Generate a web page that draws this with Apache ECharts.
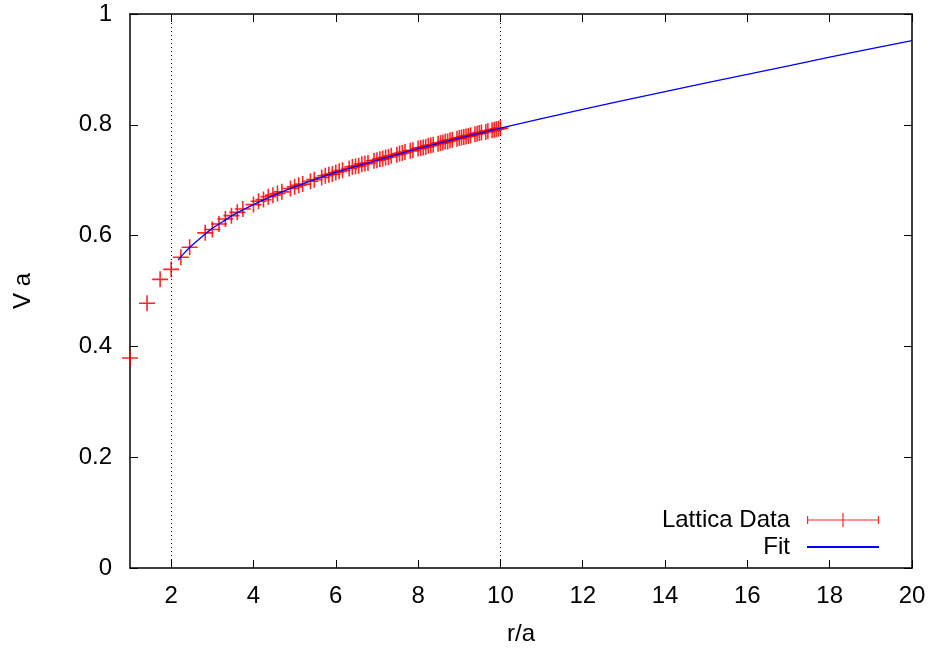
<!DOCTYPE html>
<html>
<head>
<meta charset="utf-8">
<script src="https://cdn.jsdelivr.net/npm/echarts@6/dist/echarts.min.js"></script>
<style>html,body{margin:0;padding:0;background:#fff}#c{width:934px;height:651px}</style>
</head>
<body>
<div id="c"></div>
<script>
// Lattice data: r/a and V a
const rValues = [1.000,1.414,1.732,2.000,2.236,2.449,2.828,3.000,3.162,3.317,3.464,3.606,3.742,4.000,4.123,4.243,4.359,4.472,4.583,4.690,4.899,5.000,5.099,5.196,5.385,5.477,5.657,5.745,5.831,5.916,6.000,6.083,6.164,6.325,6.403,6.481,6.557,6.633,6.708,6.782,6.928,7.000,7.071,7.141,7.211,7.280,7.348,7.483,7.550,7.616,7.681,7.810,7.874,8.000,8.062,8.124,8.185,8.246,8.307,8.367,8.485,8.544,8.602,8.660,8.718,8.775,8.832,8.944,9.000,9.055,9.110,9.165,9.220,9.274,9.381,9.434,9.487,9.539,9.644,9.695,9.798,9.849,9.899,9.950,10.000];
const vValues = [0.379,0.478,0.521,0.539,0.561,0.579,0.605,0.611,0.621,0.630,0.636,0.642,0.648,0.656,0.662,0.665,0.670,0.673,0.676,0.679,0.685,0.688,0.691,0.693,0.698,0.701,0.705,0.708,0.710,0.711,0.714,0.716,0.718,0.721,0.724,0.725,0.726,0.729,0.730,0.731,0.735,0.736,0.738,0.739,0.741,0.742,0.744,0.746,0.748,0.749,0.751,0.753,0.754,0.757,0.758,0.759,0.760,0.762,0.763,0.764,0.766,0.767,0.768,0.770,0.770,0.772,0.773,0.775,0.776,0.777,0.778,0.779,0.780,0.781,0.783,0.784,0.785,0.786,0.787,0.789,0.790,0.791,0.792,0.793,0.794];
// Fit curve
const fitR = [2.17,2.3,2.5,2.75,3,3.25,3.5,4,4.5,5,6,7,8,9,10,12,14,16,18,20];
const fitV = [0.556,0.567,0.582,0.598,0.613,0.625,0.637,0.656,0.673,0.688,0.714,0.736,0.757,0.776,0.794,0.828,0.860,0.891,0.922,0.952];
const xTicks = [2,4,6,8,10,12,14,16,18,20];
const yTicks = [0,0.2,0.4,0.6,0.8,1];
const fitRangeMarks = [2,10];
const seriesNames = ['Lattica Data','Fit'];

const FONT = 'Liberation Sans';
const chart = echarts.init(document.getElementById('c'));
const axisLine = {show:true, onZero:false, lineStyle:{color:'#000', width:1.5}};
const tickStyle = {color:'#000', width:1};
const plus = 'path://M0,7.2H7.2V0H8.8V7.2H16V8.8H8.8V16H7.2V8.8H0Z';
const legendPlus = 'path://M0,6.4H72V7.6H0Z M0,3H1.2V11H0Z M70.8,3H72V11H70.8Z M35.4,0H36.6V14H35.4Z';

chart.setOption({
  animation:false,
  backgroundColor:'#fff',
  grid:{left:130,right:22,top:14,bottom:83,containLabel:false},
  xAxis:[
    {type:'value',min:1,max:20,position:'bottom',axisLine,
     axisTick:{show:true,inside:true,length:8,customValues:xTicks,lineStyle:tickStyle},
     axisLabel:{show:true,customValues:xTicks,margin:16,color:'#000',fontSize:24,fontFamily:FONT},
     splitLine:{show:false},
     name:'r/a',nameLocation:'middle',nameGap:54,
     nameTextStyle:{color:'#000',fontSize:24,fontFamily:FONT}},
    {type:'value',min:1,max:20,position:'top',axisLine,
     axisTick:{show:true,inside:true,length:8,customValues:xTicks,lineStyle:tickStyle},
     axisLabel:{show:false},splitLine:{show:false}}
  ],
  yAxis:[
    {type:'value',min:0,max:1,interval:0.2,position:'left',axisLine,
     axisTick:{show:true,inside:true,length:8,lineStyle:tickStyle},
     axisLabel:{show:true,margin:18,color:'#000',fontSize:24,fontFamily:FONT},
     splitLine:{show:false},
     name:'V a',nameLocation:'middle',nameGap:95,nameRotate:90,
     nameTextStyle:{color:'#000',fontSize:24,fontFamily:FONT}},
    {type:'value',min:0,max:1,interval:0.2,position:'right',axisLine,
     axisTick:{show:true,inside:true,length:8,lineStyle:tickStyle},
     axisLabel:{show:false},splitLine:{show:false}}
  ],
  legend:{
    orient:'vertical',align:'right',right:54,top:508,padding:0,
    itemWidth:72,itemHeight:14,itemGap:3,selectedMode:false,
    textStyle:{color:'#000',fontSize:24,fontFamily:FONT,lineHeight:24,padding:[0,12,0,0]},
    data:[{name:seriesNames[0],icon:legendPlus},{name:seriesNames[1],itemStyle:{opacity:0}}]
  },
  series:[
    {name:seriesNames[1],type:'line',xAxisIndex:0,yAxisIndex:0,
     data:fitR.map((r,i)=>[r,fitV[i]]),
     smooth:0.3,showSymbol:false,symbol:'none',
     lineStyle:{color:'#0000ff',width:1.3},itemStyle:{color:'#0000ff'},z:3,
     markLine:{silent:true,symbol:['none','none'],label:{show:false},
       lineStyle:{color:'#000',type:[1,3],width:1},
       data:fitRangeMarks.map(v=>({xAxis:v}))}},
    {name:seriesNames[0],type:'scatter',xAxisIndex:0,yAxisIndex:0,
     data:rValues.map((r,i)=>[r,vValues[i]]),
     symbol:plus,symbolSize:16,
     itemStyle:{color:'#ff0000',opacity:0.85},z:2}
  ]
});
</script>
</body>
</html>
